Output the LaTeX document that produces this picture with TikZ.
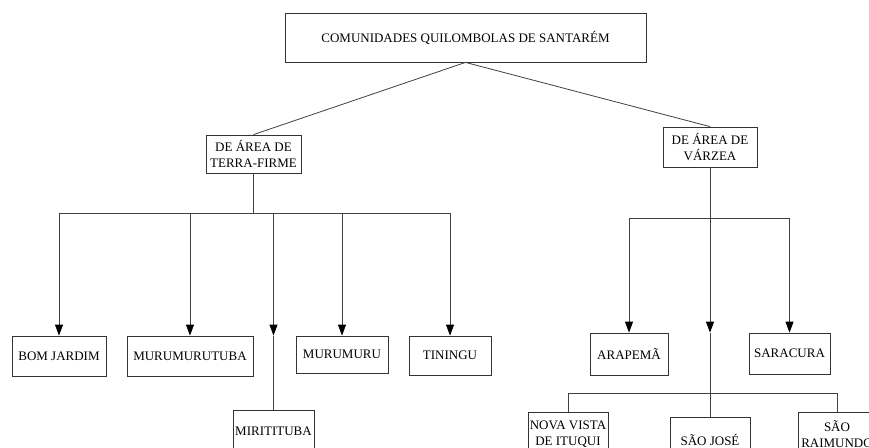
\documentclass[tikz,border=0pt]{standalone}
\usepackage{fontspec}
\setmainfont{Liberation Serif}
\usepackage{tikz}
\usetikzlibrary{
  calc,
  positioning,
  arrows.meta
}

\begin{document}
\begin{tikzpicture}[x=1pt,y=-1pt,>={Triangle[width=8pt,length=11pt,color=black]}]
  \tikzset{
    box/.style={
      draw=black!80,line width=0.8pt,inner sep=1pt,align=center,
      font=\fontsize{13}{16.5}\selectfont
    },
    link/.style={
      draw=black!75,line width=0.8pt
    },
  }
  \clip (0,0) rectangle (869,447);

  % top level
  \node[box,minimum width=361pt,minimum height=49pt] (cq) at (465.5,37.5)
    {COMUNIDADES QUILOMBOLAS DE SANTARÉM};

  % two areas
  \node[box,minimum width=95pt,minimum height=38pt] (terra) at (253.5,154)
    {DE ÁREA DE\\TERRA-FIRME};
  \node[box,minimum width=94pt,minimum height=40pt] (varzea) at (710,147)
    {DE ÁREA DE\\VÁRZEA};

  % terra-firme communities
  \node[box,minimum width=94pt,minimum height=40pt] (bomjardim) at (59,356) {BOM JARDIM};
  \node[box,minimum width=126pt,minimum height=40pt] (murumurutuba) at (190,356) {MURUMURUTUBA};
  \node[box,minimum width=81pt,minimum height=42pt] (miritituba) at (273.5,431) {MIRITITUBA};
  \node[box,minimum width=92pt,minimum height=37pt] (murumuru) at (342,354.5) {MURUMURU};
  \node[box,minimum width=82pt,minimum height=39pt] (tiningu) at (450,355.5) {TININGU};

  % varzea communities
  \node[box,minimum width=78pt,minimum height=42pt] (arapema) at (629,354) {ARAPEMÃ};
  \node[box,minimum width=81pt,minimum height=41pt] (saracura) at (789.5,353.5) {SARACURA};
  \node[box,minimum width=80pt,minimum height=44pt] (novavista) at (568,434) {NOVA VISTA\\DE ITUQUI};
  \node[box,minimum width=80pt,minimum height=46pt] (saojose) at (710,440) {SÃO JOSÉ};
  \node[box,minimum width=78pt,minimum height=44pt,inner sep=0pt] (saoraimundo) at (837,434) {SÃO\\RAIMUNDO};

  \coordinate (apex) at (cq.south);
  \draw[link] (terra.north) -- (apex) -- (varzea.north);

  % left fork
  \coordinate (tf) at ($(terra.south)+(0,40)$);
  \coordinate (tl) at (tf -| bomjardim.north);
  \coordinate (tr) at (tf -| tiningu.north);
  \coordinate (tm) at (tf -| miritituba.north);
  \coordinate (tmarrow) at (bomjardim.north -| miritituba.north);
  \draw[link] (terra.south) -- (tf);
  \draw[link] (tl) -- (tr);
  \draw[link,->] (tl) -- (bomjardim.north);
  \draw[link,->] (tf -| murumurutuba.north) -- (murumurutuba.north);
  \draw[link,->] (tm) -- (tmarrow);
  \draw[link] (tmarrow) -- (miritituba.north);
  \draw[link,->] (tf -| murumuru.north) -- (murumuru.north);
  \draw[link,->] (tr) -- (tiningu.north);

  % right fork
  \coordinate (vf) at ($(varzea.south)+(0,51)$);
  \coordinate (vl) at (vf -| arapema.north);
  \coordinate (vr) at (vf -| saracura.north);
  \coordinate (vmarrow) at (arapema.north -| saojose.north);
  \draw[link] (vl) -- (vr);
  \draw[link,->] (vl) -- (arapema.north);
  \draw[link,->] (vr) -- (saracura.north);
  \draw[link,->] (varzea.south) -- (vmarrow);
  \draw[link] (vmarrow) -- (saojose.north);

  % lower fork
  \coordinate (lf) at (0,393);
  \coordinate (ll) at (novavista.north |- lf);
  \coordinate (lr) at (saoraimundo.north |- lf);
  \draw[link] (novavista.north) -- (ll) -- (lr) -- (saoraimundo.north);

\end{tikzpicture}
\end{document}
